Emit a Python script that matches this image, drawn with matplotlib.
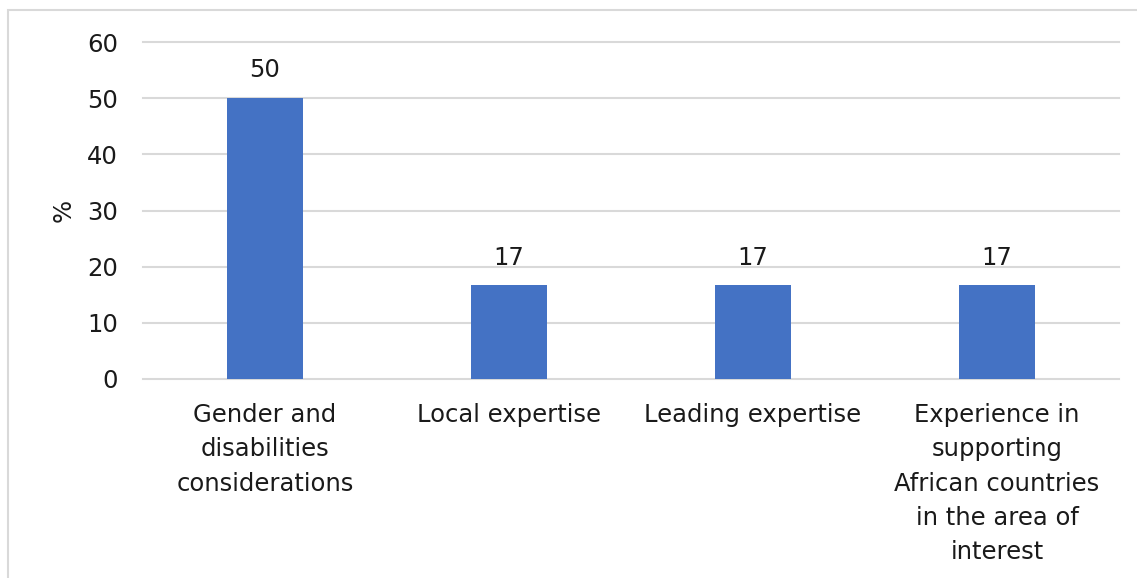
import matplotlib.pyplot as plt
from matplotlib.patches import Rectangle

categories = [
    "Gender and\ndisabilities\nconsiderations",
    "Local expertise",
    "Leading expertise",
    "Experience in\nsupporting\nAfrican countries\nin the area of\ninterest",
]
shares = [50, 16.67, 16.67, 16.67]
yticks = [0, 10, 20, 30, 40, 50, 60]

plt.rcParams['font.family'] = ['DejaVu Sans']
FS = 17.5

W, H = 1137, 578
fig = plt.figure(figsize=(W / 100, H / 100), dpi=100)
ax = fig.add_axes([143 / W, 1 - 379 / H, 976 / W, 337 / H])

# outer chart frame (clipped at right and bottom)
fig.patches.append(Rectangle((8 / W, -0.02), 1.1, 1 - 10 / H + 0.02,
                             transform=fig.transFigure, fill=False,
                             edgecolor='#d9d9d9', linewidth=1.5))

x = range(len(categories))
ax.bar(x, shares, width=0.31, color='#4472C4', zorder=3)
for xi, v in zip(x, shares):
    ax.annotate(f"{v:.0f}", (xi, v), xytext=(0, 20), textcoords='offset points',
                ha='center', va='center', fontsize=FS, color='#1a1a1a')

ax.set_xlim(-0.5, len(categories) - 0.5)
ax.set_ylim(0, 60)
ax.set_yticks(yticks)
ax.yaxis.grid(True, color='#d9d9d9', linewidth=1.5, zorder=0)
for gl in ax.yaxis.get_gridlines():
    gl.set_clip_on(False)
ax.set_axisbelow(True)
for s in ax.spines.values():
    s.set_visible(False)
ax.tick_params(axis='both', length=0, labelsize=FS, colors='#1a1a1a')
ax.tick_params(axis='y', pad=18)
ax.tick_params(axis='x', pad=17)
ax.set_xticks(list(x))
ax.set_xticklabels(categories, linespacing=1.55)
ax.set_ylabel('%', fontsize=FS, color='#1a1a1a', labelpad=8)

fig.savefig('out.png', dpi=100)
